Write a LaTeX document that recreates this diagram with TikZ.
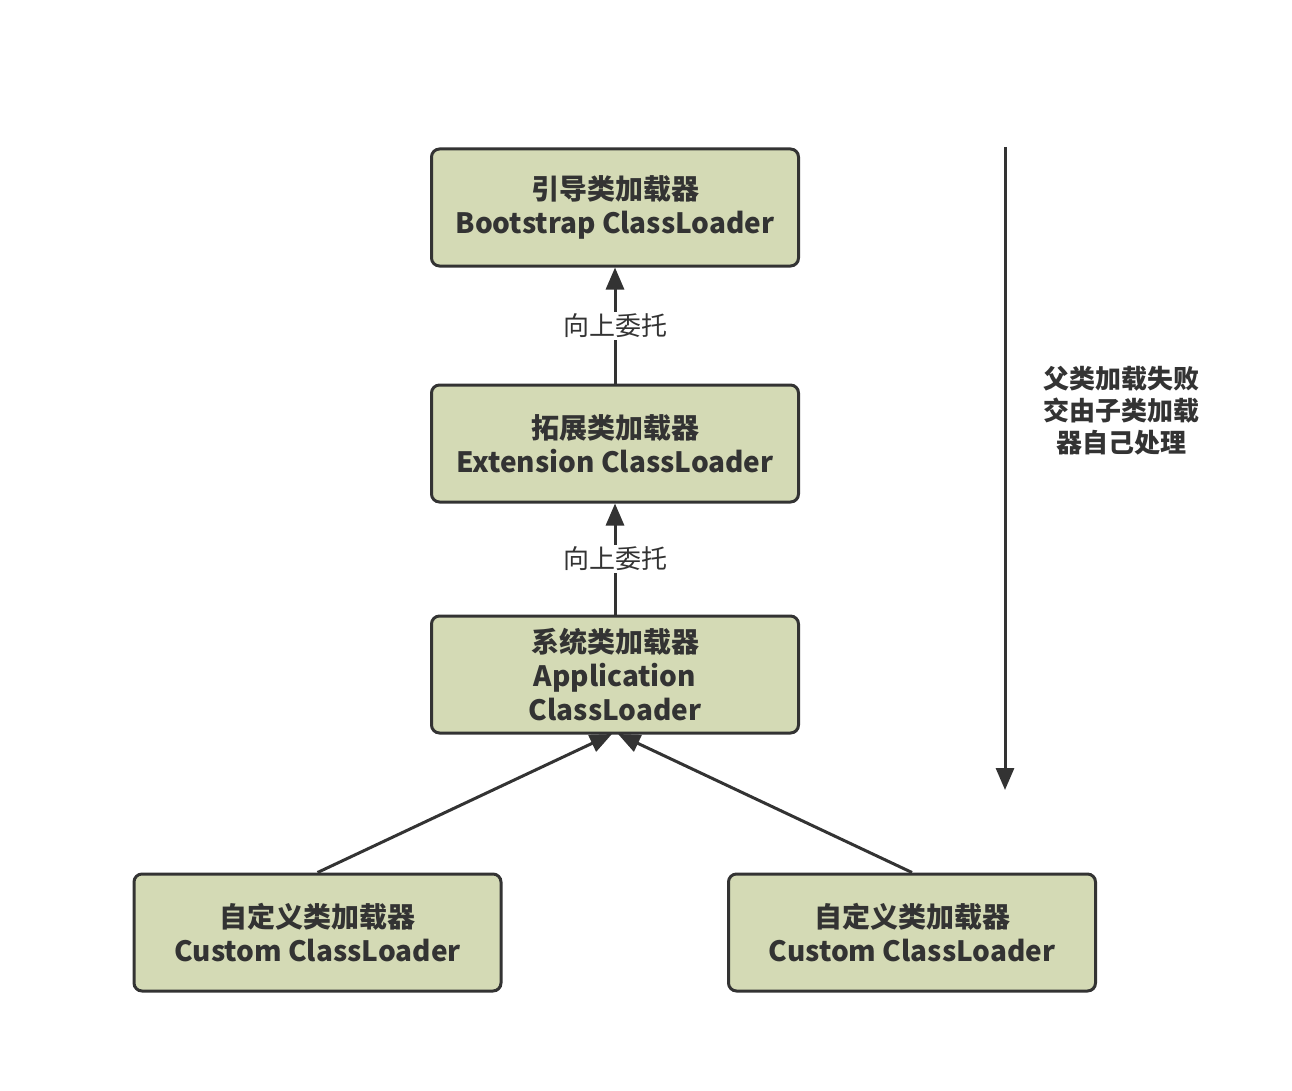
\documentclass[tikz,border=0pt]{standalone}
\usepackage{fontspec}
\setmainfont{Noto Sans CJK SC}
\usetikzlibrary{arrows.meta}
\definecolor{boxfill}{HTML}{D4DAB5}
\definecolor{ink}{HTML}{333333}
\begin{document}
\begin{tikzpicture}[x=1pt,y=-1pt,
  loader/.style={draw=ink, fill=boxfill, line width=3pt, rounded corners=8pt,
    minimum width=367pt, minimum height=117pt, align=center, text=ink,
    font=\fontsize{28}{34}\selectfont\bfseries, inner sep=0pt},
  conn/.style={draw=ink, line width=3pt, -{Triangle[length=22pt,width=18pt]}},
  lbl/.style={fill=white, text=ink, font=\fontsize{26}{30}\selectfont, inner sep=2pt}
]
\useasboundingbox (0,0) rectangle (1292,1091);
\node[loader] (boot) at (615,207.5) {引导类加载器\\Bootstrap ClassLoader};
\node[loader] (ext) at (615,443.5) {拓展类加载器\\Extension ClassLoader};
\node[loader] (app) at (615,674.5) {系统类加载器\\Application\\ClassLoader};
\node[loader] (c1) at (317.5,932.5) {自定义类加载器\\Custom ClassLoader};
\node[loader] (c2) at (912,932.5) {自定义类加载器\\Custom ClassLoader};
\draw[conn] (ext.north) -- node[lbl] {向上委托} (boot.south);
\draw[conn] (app.north) -- node[lbl] {向上委托} (ext.south);
\coordinate (appL) at (612,734);
\coordinate (appR) at (618,734);
\draw[conn] (c1.north) -- (appL);
\draw[conn] (c2.north) -- (appR);
\coordinate (vtop) at (1005,147);
\coordinate (vbot) at (1005,790);
\draw[conn] (vtop) -- (vbot);
\node[text=ink, align=center, font=\fontsize{26}{32}\selectfont\bfseries] (note) at (1121,411) {父类加载失败\\交由子类加载\\器自己处理};
\end{tikzpicture}
\end{document}
